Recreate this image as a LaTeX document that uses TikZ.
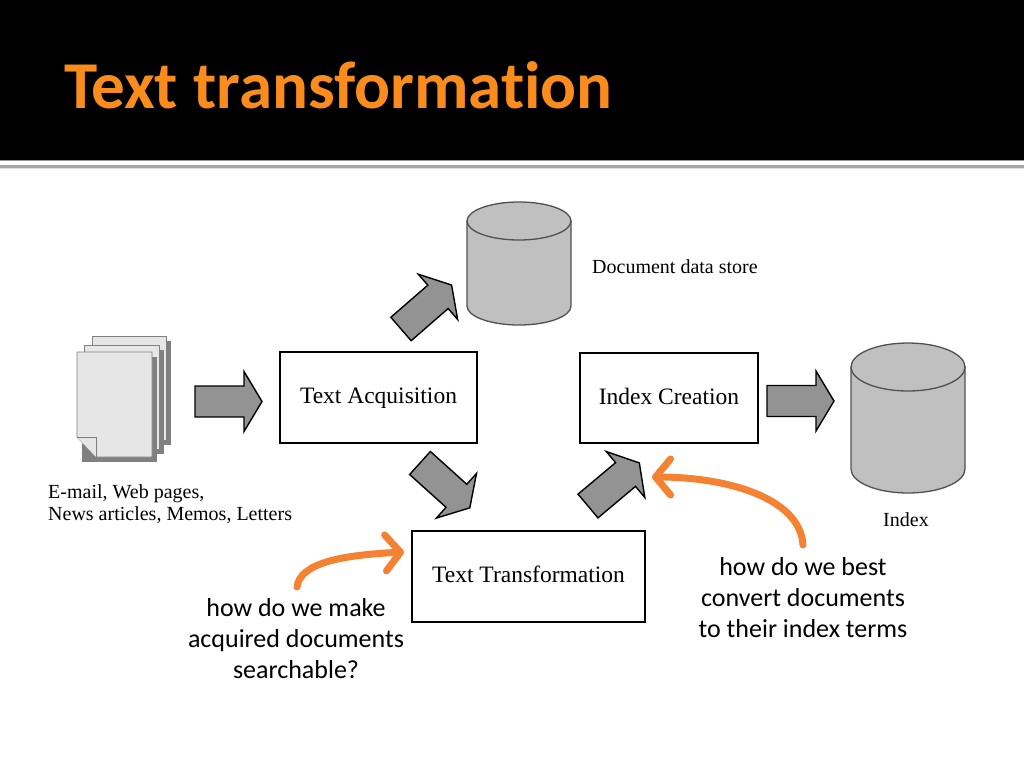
\documentclass[tikz,border=0pt]{standalone}
\usepackage{fontspec}
\setmainfont{Liberation Serif}
\newfontfamily\calibri[Ligatures=NoCommon]{Carlito}
\usetikzlibrary{arrows.meta}
\definecolor{titleorange}{RGB}{250,140,30}
\definecolor{arrorange}{RGB}{245,130,50}
\definecolor{blockgray}{RGB}{147,147,147}
\definecolor{cylgray}{RGB}{192,192,192}
\definecolor{cylline}{RGB}{80,80,80}
\definecolor{pagefill}{RGB}{230,230,230}
\definecolor{pageshadow}{RGB}{128,128,128}
\tikzset{
  procbox/.style={draw=black, line width=1.4pt, fill=white, inner sep=0pt,
    text height=1.4em, text depth=0.2em,
    font=\fontsize{23.5}{27}\selectfont},
  blockarrow/.pic={\draw[line width=1.4pt, fill=blockgray, line join=miter]
    (0,-15.5) -- (49,-15.5) -- (49,-30) -- (67,0) -- (49,30) -- (49,15.5) -- (0,15.5) -- cycle;},
  qarrow/.style={draw=arrorange, line width=7pt, line cap=round,
    -{Straight Barb[length=15pt,width=36pt,line cap=round,line join=round]}},
  smalllabel/.style={font=\fontsize{20}{22}\selectfont, inner sep=0pt, align=left},
  question/.style={font=\calibri\fontsize{26}{31}\selectfont, align=center, inner sep=0pt},
  page/.style={draw=pageshadow, line width=0.8pt, fill=pagefill},
  shadow/.style={fill=pageshadow},
  cyl/.style={draw=cylline, line width=1.3pt, fill=cylgray},
}
\begin{document}
\begin{tikzpicture}[x=1pt,y=-1pt]
\useasboundingbox (0,0) rectangle (1024,768);
\fill[white] (0,0) rectangle (1024,768);
% title bar
\fill[black] (0,0) rectangle (1024,160);
\draw[gray!80, line width=1.2pt] (0,160.8) -- (1024,160.8);
\draw[gray!70, line width=2.5pt] (0,166.5) -- (1024,166.5);
\draw[gray!25, line width=1pt] (0,168.5) -- (1024,168.5);
\node[anchor=base west, inner sep=0pt, text=titleorange,
  font=\calibri\bfseries\fontsize{67}{72}\selectfont] (title) at (64,108) {Text transformation};

% documents icon
\fill[shadow] (97,341) rectangle (171,445);
\draw[page] (92,336) rectangle (166,440);
\fill[shadow] (89,350) rectangle (164,454);
\draw[page] (84,345) rectangle (159,449);
\fill[shadow] (82,357) rectangle (157,462);
\draw[page] (77,352) -- (152,352) -- (152,457) -- (97,457) -- (77,437) -- cycle;
\draw[page] (77,437) -- (96,437) -- (96,457);

\node[smalllabel, anchor=base west] (docs) at (48,520) {E-mail, Web pages,\\News articles, Memos, Letters};

% process boxes
\node[procbox, minimum width=197pt, minimum height=91pt] (ta) at (378.5,397.5) {Text Acquisition};
\node[procbox, minimum width=178pt, minimum height=90pt] (ic) at (669,398) {Index Creation};
\node[procbox, minimum width=233pt, minimum height=91pt] (tt) at (528.5,576.5) {Text Transformation};

% document data store cylinder
\draw[cyl] (467,221) -- (467,306) arc[start angle=180, end angle=0, x radius=52, y radius=19] -- (571,221) -- cycle;
\draw[cyl] (519,221) ellipse[x radius=52, y radius=19];
\node[smalllabel, anchor=base west] (dds) at (592,273) {Document data store};

% index cylinder
\draw[cyl] (851,367) -- (851,469) arc[start angle=180, end angle=0, x radius=57, y radius=24] -- (965,367) -- cycle;
\draw[cyl] (908,367) ellipse[x radius=57, y radius=24];
\node[smalllabel, anchor=base] (idx) at (906,526) {Index};

% block arrows
\pic at (195,401.5) {blockarrow};
\pic at (767,401) {blockarrow};
\pic[rotate=41] at (401,329) {blockarrow};
\pic[rotate=-42] at (420,463) {blockarrow};
\pic[rotate=40] at (588,506) {blockarrow};

% questions
\node[question] (q1) at (296,639) {how do we make\\acquired documents\\searchable?};
\node[question] (q2) at (803,598) {how do we best\\convert documents\\to their index terms};

% orange arrows
\coordinate (q1s) at (297,587);
\coordinate (q1e) at (404,552);
\coordinate (q2s) at (803,545);
\coordinate (q2e) at (652,477);
\draw[qarrow] (q1s) .. controls (300,562) and (345,555) .. (q1e);
\draw[qarrow] (q2s) .. controls (800,497) and (725,477) .. (q2e);
\end{tikzpicture}
\end{document}
